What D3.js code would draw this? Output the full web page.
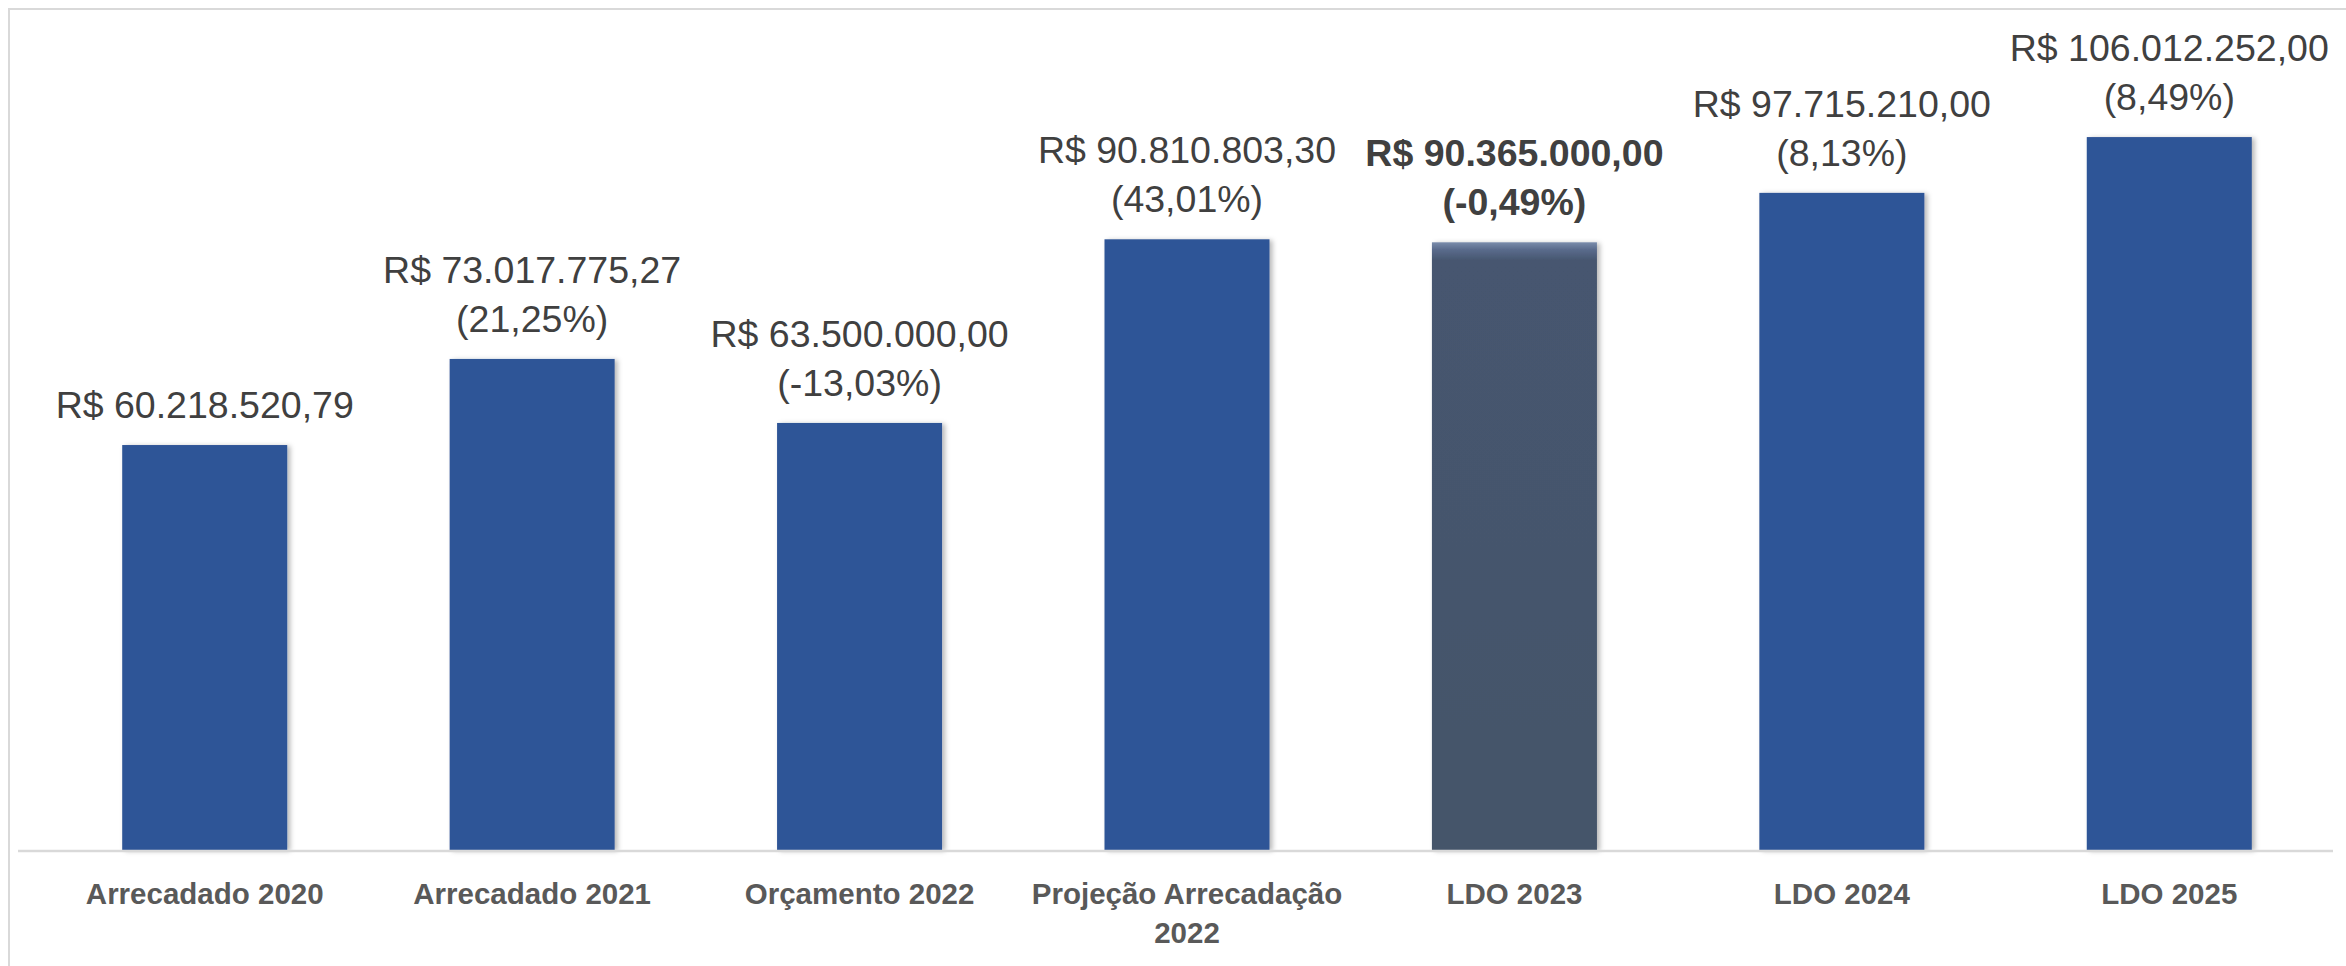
<!DOCTYPE html>
<html>
<head>
<meta charset="utf-8">
<script src="https://cdn.jsdelivr.net/npm/d3@7"></script>
<style>
  body { margin: 0; background: #fff; }
  svg { display: block; font-family: 'Liberation Sans', Arial, sans-serif; }
  .value { fill: #404040; font-size: 37.5px; }
  .value.bold { font-weight: bold; }
  .cat text { fill: #595959; font-size: 29.5px; font-weight: bold; }
</style>
</head>
<body>
<script>
// data
const categories = ['Arrecadado 2020', 'Arrecadado 2021', 'Orçamento 2022',
  'Projeção Arrecadação 2022', 'LDO 2023', 'LDO 2024', 'LDO 2025'];
const amounts = [60218520.79, 73017775.27, 63500000.00, 90810803.30,
  90365000.00, 97715210.00, 106012252.00];
const changes = [null, 21.25, -13.03, 43.01, -0.49, 8.13, 8.49];
const highlighted = ['LDO 2023'];
const yMax = 120000000;

const base = {};
const svg = createSVG();
setBaseValue();
drawFrame(svg);
drawBars(svg);
drawAxis(svg);
drawLabels(svg);

function createSVG(){
  return d3.select(document.body)
    .append('svg')
    .attr('width', 2346)
    .attr('height', 966);
}

function setBaseValue(){
  base.width = 2346;
  base.height = 966;
  base.baseline = 850;
  base.x = d3.scaleBand()
    .domain(categories)
    .range([41, 2333])
    .paddingInner(0.496)
    .paddingOuter(0.248);
  base.y = d3.scaleLinear()
    .domain([0, yMax])
    .range([base.baseline, 43]);

  const br = d3.formatLocale({
    decimal: ',', thousands: '.', grouping: [3],
    currency: ['R$ ', ''], minus: '-'
  });
  base.money = br.format('$,.2f');
  base.pct = br.format(',.2f');
}

function drawFrame(svg){
  // light chart border (top and left visible)
  svg.append('path')
    .attr('d', `M9,${base.height} V9 H${base.width}`)
    .attr('fill', 'none')
    .attr('stroke', '#d9d9d9')
    .attr('stroke-width', 2);

  const defs = svg.append('defs');
  defs.append('filter')
    .attr('id', 'shadow')
    .attr('x', '-10%').attr('y', '-5%')
    .attr('width', '130%').attr('height', '115%')
    .append('feDropShadow')
    .attr('dx', 3).attr('dy', 1)
    .attr('stdDeviation', 2.5)
    .attr('flood-color', '#000')
    .attr('flood-opacity', 0.28);

  const grad = defs.append('linearGradient')
    .attr('id', 'hl')
    .attr('x1', 0).attr('y1', 0).attr('x2', 0).attr('y2', 1);
  grad.append('stop').attr('offset', 0).attr('stop-color', '#7a8cab');
  grad.append('stop').attr('offset', 0.012).attr('stop-color', '#5a6b8c');
  grad.append('stop').attr('offset', 0.03).attr('stop-color', '#46566f');
  grad.append('stop').attr('offset', 1).attr('stop-color', '#44546a');
}

function drawBars(svg){
  svg.append('g')
    .selectAll('rect')
    .data(categories)
    .enter()
    .append('rect')
    .attr('x', d => base.x(d))
    .attr('width', base.x.bandwidth())
    .attr('y', (d, i) => base.y(amounts[i]))
    .attr('height', (d, i) => base.baseline - base.y(amounts[i]))
    .attr('fill', d => highlighted.includes(d) ? 'url(#hl)' : '#2f5597')
    .attr('filter', 'url(#shadow)');
}

function drawAxis(svg){
  svg.append('line')
    .attr('x1', 18)
    .attr('x2', base.x.range()[1])
    .attr('y1', base.baseline + 1)
    .attr('y2', base.baseline + 1)
    .attr('stroke', '#d9d9d9')
    .attr('stroke-width', 2.5);

  const axis = svg.append('g')
    .attr('class', 'cat')
    .attr('transform', `translate(0, ${base.baseline})`)
    .call(d3.axisBottom(base.x).tickSize(0));
  axis.select('.domain').remove();
  axis.selectAll('text')
    .attr('y', 54)
    .attr('dy', 0)
    .call(wrap, base.x.step() * 0.98);
}

function wrap(texts, width){
  texts.each(function(){
    const text = d3.select(this);
    const words = text.text().split(' ');
    const y = text.attr('y');
    text.text(null);
    let line = [];
    let lineNo = 0;
    let tspan = text.append('tspan').attr('x', 0).attr('y', y);
    words.forEach(w => {
      line.push(w);
      tspan.text(line.join(' '));
      if (tspan.node().getComputedTextLength() > width && line.length > 1) {
        line.pop();
        tspan.text(line.join(' '));
        line = [w];
        lineNo++;
        tspan = text.append('tspan')
          .attr('x', 0).attr('y', y)
          .attr('dy', lineNo * 39)
          .text(w);
      }
    });
  });
}

function drawLabels(svg){
  const g = svg.append('g')
    .selectAll('text')
    .data(categories)
    .enter()
    .append('text')
    .attr('class', d => highlighted.includes(d) ? 'value bold' : 'value')
    .attr('text-anchor', 'middle');

  g.each(function(d, i){
    const cx = base.x(d) + base.x.bandwidth() / 2;
    const top = base.y(amounts[i]);
    const lines = [base.money(amounts[i])];
    if (changes[i] !== null) lines.push(`(${base.pct(changes[i])}%)`);
    const t = d3.select(this);
    lines.forEach((s, k) => {
      t.append('tspan')
        .attr('x', cx)
        .attr('y', top - 27 - (lines.length - 1 - k) * 49)
        .text(s);
    });
  });
}
</script>
</body>
</html>
